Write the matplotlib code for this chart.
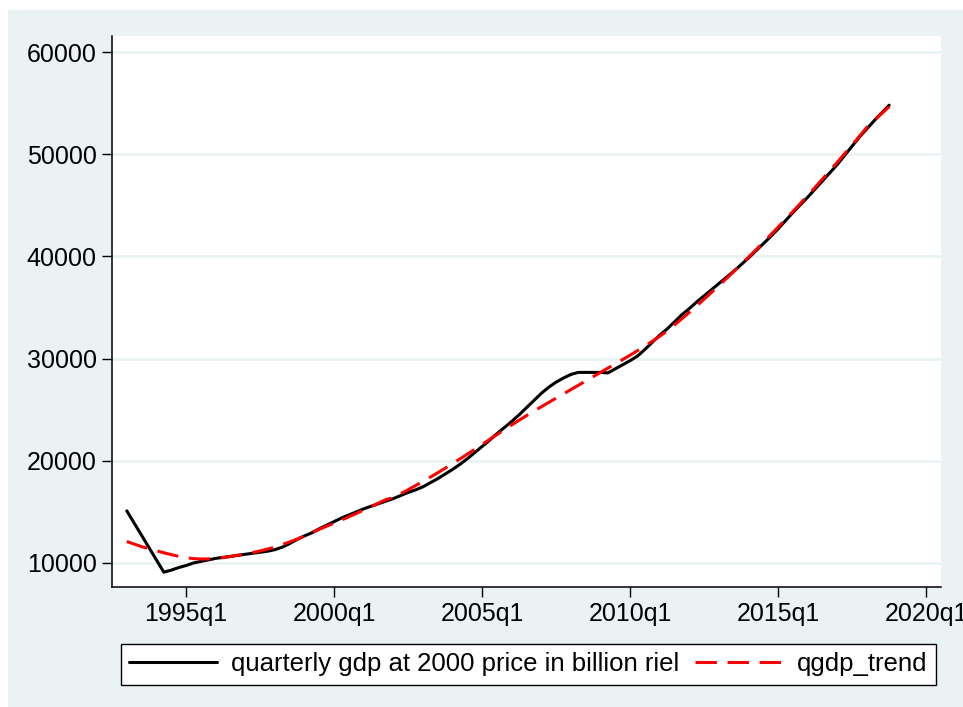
import matplotlib
matplotlib.use("Agg")
import matplotlib.pyplot as plt
from matplotlib.patches import Rectangle

plt.rcParams['font.family'] = ['Liberation Sans', 'DejaVu Sans']

# Stata quarterly index: 1960q1 = 0, so 1993q1 = 132
start_q = 132
gdp = [
    15100, 13900, 12700, 11500, 10300, 9100, 9300, 9550,          # 1993q1-1994q4
    9750, 10000, 10150, 10300,                                     # 1995
    10450, 10550, 10650, 10750,                                    # 1996
    10850, 10950, 11050, 11150,                                    # 1997
    11300, 11550, 11900, 12300,                                    # 1998
    12650, 12950, 13350, 13700,                                    # 1999
    14050, 14400, 14700, 15000,                                    # 2000
    15300, 15550, 15800, 16050,                                    # 2001
    16300, 16600, 16900, 17150,                                    # 2002
    17450, 17850, 18250, 18700,                                    # 2003
    19150, 19650, 20200, 20800,                                    # 2004
    21400, 22000, 22650, 23250,                                    # 2005
    23850, 24500, 25200, 25900,                                    # 2006
    26600, 27200, 27700, 28100,                                    # 2007
    28450, 28650, 28650, 28650,                                    # 2008
    28650, 28600, 29000, 29400,                                    # 2009
    29800, 30250, 30900, 31600,                                    # 2010
    32300, 32900, 33600, 34300,                                    # 2011
    34900, 35550, 36150, 36750,                                    # 2012
    37350, 37950, 38550, 39200,                                    # 2013
    39850, 40550, 41250, 41950,                                    # 2014
    42700, 43500, 44300, 45050,                                    # 2015
    45800, 46600, 47400, 48200,                                    # 2016
    49000, 49900, 50800, 51700,                                    # 2017
    52500, 53300, 54050, 54800,                                    # 2018
]
trend = [
    12100, 11850, 11600, 11400, 11200, 11000, 10820, 10650,        # 1993-1994
    10520, 10430, 10390, 10400,                                    # 1995
    10450, 10530, 10630, 10750,                                    # 1996
    10880, 11020, 11180, 11360,                                    # 1997
    11560, 11800, 12060, 12340,                                    # 1998
    12640, 12960, 13300, 13600,                                    # 1999
    13900, 14200, 14520, 14850,                                    # 2000
    15180, 15520, 15860, 16200,                                    # 2001
    16400, 16780, 17170, 17570,                                    # 2002
    17980, 18400, 18830, 19270,                                    # 2003
    19720, 20180, 20650, 21120,                                    # 2004
    21600, 22080, 22560, 23040,                                    # 2005
    23510, 23970, 24420, 24860,                                    # 2006
    25290, 25710, 26130, 26550,                                    # 2007
    26970, 27390, 27810, 28230,                                    # 2008
    28650, 29070, 29490, 29910,                                    # 2009
    30340, 30780, 31230, 31700,                                    # 2010
    32190, 32700, 33300, 33900,                                    # 2011
    34530, 35170, 35820, 36480,                                    # 2012
    37150, 37830, 38520, 39220,                                    # 2013
    39930, 40650, 41380, 42120,                                    # 2014
    42870, 43630, 44400, 45180,                                    # 2015
    45970, 46770, 47580, 48400,                                    # 2016
    49230, 50070, 50920, 51780,                                    # 2017
    52650, 53330, 54000, 54650,                                    # 2018
]
quarters = list(range(start_q, start_q + len(gdp)))

xtick_pos = [140, 160, 180, 200, 220, 240]
xtick_labels = ["1995q1", "2000q1", "2005q1", "2010q1", "2015q1", "2020q1"]
ytick_pos = [10000, 20000, 30000, 40000, 50000, 60000]
ytick_labels = ["10000", "20000", "30000", "40000", "50000", "60000"]

label_gdp = "quarterly gdp at 2000 price in billion riel"
label_trend = "qgdp_trend"

W, H = 963, 707
fig = plt.figure(figsize=(W / 100, H / 100), dpi=100, facecolor="white")
bg = "#EAF2F3"
fig.patches.append(Rectangle((8 / W, 0), 1 - 8 / W, 1 - 10 / H,
                             transform=fig.transFigure, facecolor=bg,
                             edgecolor="none", zorder=-10))

ax = fig.add_axes([112 / W, 1 - 587 / H, (941 - 112) / W, (587 - 36) / H])
ax.set_facecolor("white")

ax.plot(quarters, gdp, color="black", lw=2.2, label=label_gdp, zorder=3,
        solid_joinstyle="round", solid_capstyle="round")
ax.plot(quarters, trend, color="#FF0000", lw=2.2, dashes=(7, 3.5),
        label=label_trend, zorder=4)

ax.set_xlim(130, 242)
ax.set_ylim(7650, 61570)
ax.set_xticks(xtick_pos)
ax.set_xticklabels(xtick_labels)
ax.set_yticks(ytick_pos)
ax.set_yticklabels(ytick_labels)
ax.tick_params(axis="both", labelsize=18, length=7, width=1, color="black",
               direction="out", pad=4)
ax.yaxis.grid(True, color=bg, lw=2)
ax.set_axisbelow(True)
for side in ["top", "right"]:
    ax.spines[side].set_visible(False)
for side in ["left", "bottom"]:
    ax.spines[side].set_color("black")
    ax.spines[side].set_linewidth(1.1)

leg = fig.legend(loc="upper left",
                 bbox_to_anchor=(121 / W, 1 - 644 / H),
                 ncol=2, fontsize=18.5, frameon=True,
                 fancybox=False, edgecolor="black", facecolor="white",
                 framealpha=1, handlelength=3.4, handletextpad=0.56,
                 columnspacing=0.6, borderaxespad=0, borderpad=0.33)
leg.get_frame().set_linewidth(1.0)

fig.savefig("out.png", dpi=100, facecolor=fig.get_facecolor())
